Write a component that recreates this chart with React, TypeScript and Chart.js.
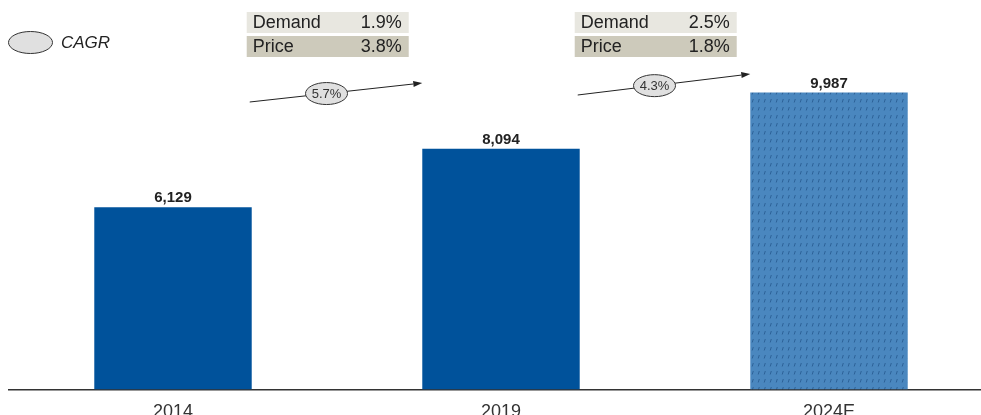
import React, { useEffect, useRef } from "react";
import { Chart, registerables } from "chart.js";

Chart.register(...registerables);

const categories = ["2014", "2019", "2024E"];
const values = [6129, 8094, 9987];
const cagrLabels = ["5.7%", "4.3%"];
const demandGrowth = ["1.9%", "2.5%"];
const priceGrowth = ["3.8%", "1.8%"];

const FONT = '"Liberation Sans", Arial, Helvetica, sans-serif';
const BAR_BLUE = "#00529b";
const FORECAST_BLUE = "#4a87bf";

function makePattern(): CanvasPattern | string {
  const tile = document.createElement("canvas");
  tile.width = 6;
  tile.height = 8;
  const c = tile.getContext("2d");
  if (!c) return FORECAST_BLUE;
  c.fillStyle = FORECAST_BLUE;
  c.fillRect(0, 0, 6, 8);
  c.strokeStyle = "#2d6298";
  c.lineWidth = 1;
  c.beginPath();
  c.moveTo(2.2, 6.5);
  c.lineTo(3.3, 3);
  c.stroke();
  const p = c.createPattern(tile, "repeat");
  return p || FORECAST_BLUE;
}

function drawEllipseLabel(ctx: CanvasRenderingContext2D, cx: number, cy: number, rx: number, ry: number, text?: string) {
  ctx.save();
  ctx.beginPath();
  ctx.ellipse(cx, cy, rx, ry, 0, 0, Math.PI * 2);
  ctx.fillStyle = "#e0e0e0";
  ctx.fill();
  ctx.lineWidth = 1;
  ctx.strokeStyle = "#333";
  ctx.stroke();
  if (text) {
    ctx.fillStyle = "#333";
    ctx.font = `13px ${FONT}`;
    ctx.textAlign = "center";
    ctx.textBaseline = "middle";
    ctx.fillText(text, cx, cy + 0.5);
  }
  ctx.restore();
}

const overlayPlugin = {
  id: "overlay",
  afterDatasetsDraw(chart: any) {
    const ctx: CanvasRenderingContext2D = chart.ctx;
    const meta = chart.getDatasetMeta(0);
    const bars = meta.data;

    // value labels
    ctx.save();
    ctx.font = `bold 15px ${FONT}`;
    ctx.fillStyle = "#222";
    ctx.textAlign = "center";
    ctx.textBaseline = "alphabetic";
    bars.forEach((b: any, i: number) => {
      ctx.fillText(values[i].toLocaleString("en-US"), b.x, b.y - 5);
    });
    ctx.restore();

    // CAGR arrows
    const arrowY = [
      [102, 83],
      [95, 74],
    ];
    for (let i = 0; i < bars.length - 1; i++) {
      const a = bars[i];
      const b = bars[i + 1];
      const x1 = a.x + a.width / 2 - 2;
      const x2 = b.x - b.width / 2;
      const [y1, y2] = arrowY[i];
      ctx.save();
      ctx.strokeStyle = "#222";
      ctx.fillStyle = "#222";
      ctx.lineWidth = 1;
      const ang = Math.atan2(y2 - y1, x2 - x1);
      const hl = 9;
      const hw = 3;
      const bx = x2 - hl * Math.cos(ang);
      const by = y2 - hl * Math.sin(ang);
      ctx.beginPath();
      ctx.moveTo(x1, y1);
      ctx.lineTo(bx, by);
      ctx.stroke();
      ctx.beginPath();
      ctx.moveTo(x2, y2);
      ctx.lineTo(bx - hw * Math.sin(ang), by + hw * Math.cos(ang));
      ctx.lineTo(bx + hw * Math.sin(ang), by - hw * Math.cos(ang));
      ctx.closePath();
      ctx.fill();
      ctx.restore();
      const t = 0.445;
      const ex = x1 + (x2 - x1) * t;
      const ey = y1 + (y2 - y1) * t;
      drawEllipseLabel(ctx, ex, ey, 21, 11, cagrLabels[i]);

      // growth table
      const tx = x1 - 3;
      const tw = 162;
      ctx.save();
      ctx.fillStyle = "#e8e7e0";
      ctx.fillRect(tx, 12, tw, 21);
      ctx.fillStyle = "#cdcabb";
      ctx.fillRect(tx, 36, tw, 21);
      ctx.fillStyle = "#222";
      ctx.font = `18px ${FONT}`;
      ctx.textBaseline = "middle";
      ctx.textAlign = "left";
      ctx.fillText("Demand", tx + 6, 23);
      ctx.fillText("Price", tx + 6, 47);
      ctx.textAlign = "right";
      ctx.fillText(demandGrowth[i], tx + tw - 7, 23);
      ctx.fillText(priceGrowth[i], tx + tw - 7, 47);
      ctx.restore();
    }

    // legend
    drawEllipseLabel(ctx, 30.5, 42.5, 22, 11);
    ctx.save();
    ctx.fillStyle = "#222";
    ctx.font = `italic 17px ${FONT}`;
    ctx.textAlign = "left";
    ctx.textBaseline = "middle";
    ctx.fillText("CAGR", 61, 43);
    ctx.restore();
  },
};

export default function App() {
  const ref = useRef<HTMLCanvasElement | null>(null);

  useEffect(() => {
    document.documentElement.style.overflow = "hidden";
    document.body.style.overflow = "hidden";
    const canvas = ref.current;
    if (!canvas) return;
    const pattern = makePattern();
    const chart = new Chart(canvas, {
      type: "bar",
      data: {
        labels: categories,
        datasets: [
          {
            data: values,
            backgroundColor: [BAR_BLUE, BAR_BLUE, pattern as any],
            borderWidth: 0,
            barPercentage: 0.48,
            categoryPercentage: 1,
          },
        ],
      },
      options: {
        responsive: false,
        animation: false,
        devicePixelRatio: 1,
        layout: { padding: { left: 9, right: 7, top: 3, bottom: 10 } },
        plugins: {
          legend: { display: false },
          tooltip: { enabled: false },
          title: { display: false },
        },
        scales: {
          x: {
            grid: { display: false, drawTicks: false },
            border: { display: true, color: "#333", width: 1.5 },
            ticks: {
              color: "#333",
              font: { family: FONT, size: 18 },
              padding: 12,
            },
          },
          y: {
            display: false,
            min: 0,
            max: 13000,
          },
        },
      },
      plugins: [overlayPlugin],
    });
    return () => chart.destroy();
  }, []);

  return (
    <div style={{ position: "fixed", left: 0, top: 0 }}>
      <canvas ref={ref} width={1000} height={445} style={{ display: "block" }} />
    </div>
  );
}
